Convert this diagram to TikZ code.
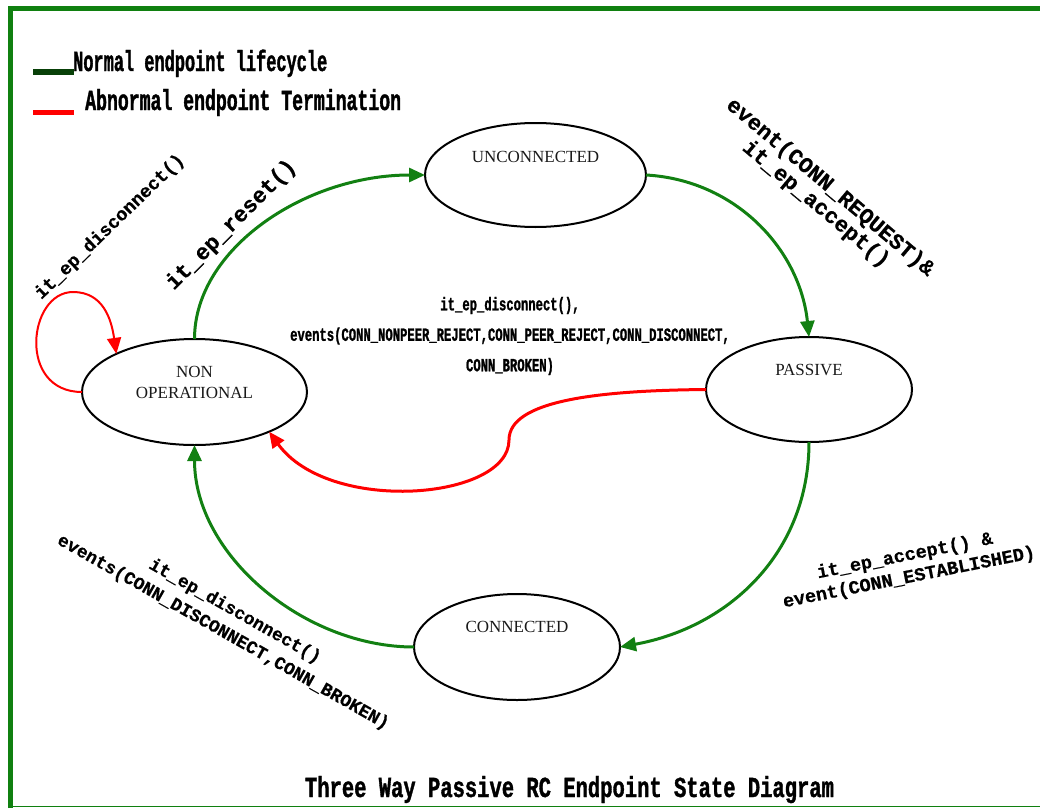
\documentclass[tikz,border=0pt]{standalone}
\usepackage{fontspec}
\setmainfont{Liberation Serif}
\newfontfamily\monofont{Liberation Mono Bold}[FakeBold=0.5]
\newfontfamily\legendfontA{Liberation Mono Bold}[FakeStretch=0.584,FakeBold=1.2]
\newfontfamily\legendfontB{Liberation Mono Bold}[FakeStretch=0.626,FakeBold=1.2]
\newfontfamily\titlefont{Liberation Mono Bold}[FakeStretch=0.707,FakeBold=1.2]
\newfontfamily\midfont{Liberation Mono Bold}[FakeStretch=0.66,FakeBold=1.2]
\usetikzlibrary{arrows.meta,shapes.geometric,calc}

\definecolor{framegreen}{RGB}{16,128,16}
\definecolor{flowgreen}{RGB}{18,128,18}
\definecolor{legendgreen}{RGB}{8,64,8}
\definecolor{abortred}{RGB}{255,0,0}
\definecolor{statetext}{RGB}{25,25,25}

\begin{document}
\begin{tikzpicture}[x=1pt,y=-1pt,
  state/.style={draw=black, line width=2pt, ellipse, inner sep=0pt, outer sep=0pt},
  statelabel/.style={anchor=base, inner sep=0pt, text=statetext, font=\fontsize{17}{20}\selectfont},
  normal/.style={draw=flowgreen, line width=3pt, -{Triangle[length=16pt,width=14pt]}},
  abnormal/.style={draw=abortred, line width=3pt, -{Triangle[length=16pt,width=14pt]}},
  codelabel/.style={inner sep=0pt, align=center, text=black},
  legendtext/.style={anchor=base west, inner sep=0pt, text=black},
]
\useasboundingbox (0,0) rectangle (1040,808);

% frame
\draw[framegreen, line width=5pt, line join=miter] (10,808) -- (10,8.5) -- (1040,8.5);
\draw[framegreen, line width=1.5pt] (10,806.5) -- (1040,806.5);

% legend
\draw[legendgreen, line width=6pt] (33,71.5) -- (73.5,71.5);
\draw[abortred, line width=5pt] (33,112.5) -- (73.5,112.5);
\node[legendtext, font=\legendfontA\fontsize{29}{30}\selectfont] (legnormal) at (73,71) {Normal endpoint lifecycle};
\node[legendtext, font=\legendfontB\fontsize{29}{30}\selectfont] (legabnormal) at (85,110) {Abnormal endpoint Termination};

% states
\node[state, minimum width=221pt, minimum height=104pt] (unc) at (535.5,175) {};
\node[state, minimum width=206pt, minimum height=105pt] (pas) at (809,389.5) {};
\node[state, minimum width=206pt, minimum height=106pt] (con) at (517,647) {};
\node[state, minimum width=225pt, minimum height=106pt] (non) at (194.5,392) {};

\node[statelabel] (unctext) at ($(unc.center)+(0,-12.5)$) {UNCONNECTED};
\node[statelabel] (pastext) at ($(pas.center)+(0,-13.8)$) {PASSIVE};
\node[statelabel] (context) at ($(con.center)+(0,-14.3)$) {CONNECTED};
\node[statelabel] (nontextA) at ($(non.center)+(0,-15)$) {NON};
\node[statelabel] (nontextB) at ($(non.center)+(0,6)$) {OPERATIONAL};

% normal lifecycle
\draw[normal] (non.north) .. controls +(0,-90) and +(-120,0) .. (unc.west);
\draw[normal] (unc.east) .. controls +(90,5) and +(-9,-87) .. (pas.north);
\draw[normal] (pas.south) .. controls +(0,110) and +(110,-20) .. (con.east);
\draw[normal] (con.west) .. controls +(-110,0) and +(0,110) .. (non.south);

% abnormal termination
\coordinate (looptop) at (73,292);
\draw[abnormal, line width=2pt] (non.west) .. controls +(-65,0) and +(-45,0) .. (looptop)
  .. controls +(30,0) and +(-5,-35) .. (non.154);
\coordinate (redbend) at (509,440);
\draw[abnormal] (pas.west) .. controls +(-106,1) and +(0,-40) .. (redbend)
  .. controls +(0,60) and +(60,83) .. (non.-28);

% transition labels
\node[codelabel, rotate=44, font=\monofont\fontsize{18.5}{22}\selectfont] (lblloop) at (110,227) {it\_ep\_disconnect()};
\node[codelabel, rotate=45, font=\monofont\fontsize{22.3}{24}\selectfont] (lblreset) at (231.5,225) {it\_ep\_reset()};
\node[codelabel, rotate=-40, font=\monofont\fontsize{22}{22}\selectfont] (lblreq) at (823,196) {event(CONN\_REQUEST)\&\\it\_ep\_accept()};
\node[codelabel, rotate=11.2, font=\monofont\fontsize{18.6}{22}\selectfont] (lblest) at (907,567) {it\_ep\_accept() \&\\event(CONN\_ESTABLISHED)};
\node[codelabel, rotate=-29.5, font=\monofont\fontsize{18}{24}\selectfont] (lbldisc) at (229,622) {it\_ep\_disconnect()\\events(CONN\_DISCONNECT,CONN\_BROKEN)};
\node[codelabel, font=\midfont\fontsize{18.5}{30.5}\selectfont] (lblabort) at (510,336)
  {it\_ep\_disconnect(),\\events(CONN\_NONPEER\_REJECT,CONN\_PEER\_REJECT,CONN\_DISCONNECT,\\CONN\_BROKEN)};

% title
\node[anchor=base, inner sep=0pt, font=\titlefont\fontsize{29}{30}\selectfont] (title) at (569.5,797) {Three Way Passive RC Endpoint State Diagram};
\end{tikzpicture}
\end{document}
